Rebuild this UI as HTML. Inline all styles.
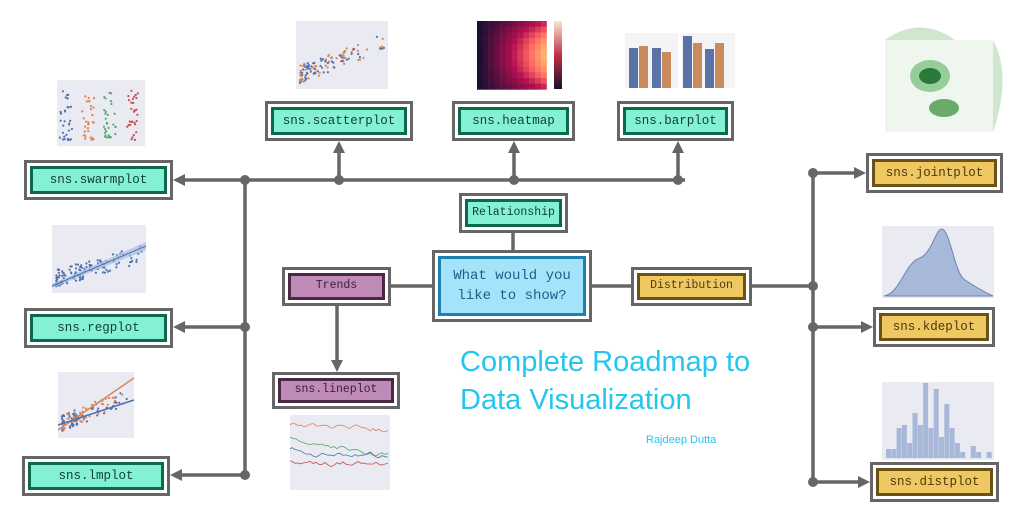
<!DOCTYPE html>
<html><head><meta charset="utf-8"><style>
body{margin:0;width:1023px;height:525px;background:#fff;position:relative;overflow:hidden;font-family:"Liberation Mono",monospace}
.b{position:absolute;box-sizing:border-box;border:3px solid #666;background:#fff;padding:3px}
.b div{box-sizing:border-box;width:100%;height:100%;border:3px solid;display:flex;align-items:center;justify-content:center;font-size:12.5px;text-align:center;line-height:1.45}
.g div{background:#84f0d4;border-color:#0b6a4e;color:#0f3f33}
.p div{background:#c08ab8;border-color:#4a2844;color:#3a2233}
.y div{background:#f0c862;border-color:#6b5218;color:#4a3a10}
.c div{background:#a3e4fb;border-color:#1f80b0;color:#1d5f86;font-size:14px}
svg{position:absolute;left:0;top:0}
.t{position:absolute;color:#22c6ee;font-family:"Liberation Sans",sans-serif}
</style></head><body>
<svg width="1023" height="525" id="s">
<g stroke="#666" stroke-width="3.5" fill="none">
<path d="M180 180H685 M245 180V475 M180 327H245 M180 475H245 M339 180V150 M514 180V150 M678 180V150 M513 233V250 M391 286H432 M592 286H631 M752 286H813 M813 173V482 M813 173H858 M813 327H865 M813 482H862 M337 306V362"/>
</g>
<g fill="#666">
<circle cx="245" cy="180" r="5"/><circle cx="339" cy="180" r="5"/><circle cx="514" cy="180" r="5"/><circle cx="678" cy="180" r="5"/>
<circle cx="245" cy="327" r="5"/><circle cx="245" cy="475" r="5"/>
<circle cx="813" cy="173" r="5"/><circle cx="813" cy="286" r="5"/><circle cx="813" cy="327" r="5"/><circle cx="813" cy="482" r="5"/>
<path d="M173 180l12-6v12z M173 327l12-6v12z M170 475l12-6v12z"/>
<path d="M866 173l-12-6v12z M873 327l-12-6v12z M870 482l-12-6v12z"/>
<path d="M339 141l-6 12h12z M514 141l-6 12h12z M678 141l-6 12h12z M337 372l-6-12h12z"/>
</g>
<g id="th"></g>
</svg>
<div class="b g" style="left:24px;top:160px;width:149px;height:40px"><div>sns.swarmplot</div></div>
<div class="b g" style="left:24px;top:308px;width:149px;height:40px"><div>sns.regplot</div></div>
<div class="b g" style="left:22px;top:456px;width:148px;height:40px"><div>sns.lmplot</div></div>
<div class="b g" style="left:265px;top:101px;width:148px;height:40px"><div>sns.scatterplot</div></div>
<div class="b g" style="left:452px;top:101px;width:123px;height:40px"><div>sns.heatmap</div></div>
<div class="b g" style="left:617px;top:101px;width:117px;height:40px"><div>sns.barplot</div></div>
<div class="b g" style="left:459px;top:193px;width:109px;height:40px"><div style="font-size:11.5px">Relationship</div></div>
<div class="b c" style="left:432px;top:250px;width:160px;height:72px"><div>What would you<br>like to show?</div></div>
<div class="b p" style="left:282px;top:267px;width:109px;height:39px"><div style="font-size:11.5px">Trends</div></div>
<div class="b y" style="left:631px;top:267px;width:121px;height:39px"><div style="font-size:11.5px">Distribution</div></div>
<div class="b p" style="left:272px;top:372px;width:128px;height:37px"><div style="font-size:11.5px">sns.lineplot</div></div>
<div class="b y" style="left:866px;top:153px;width:137px;height:40px"><div>sns.jointplot</div></div>
<div class="b y" style="left:873px;top:307px;width:122px;height:40px"><div>sns.kdeplot</div></div>
<div class="b y" style="left:870px;top:462px;width:129px;height:40px"><div>sns.distplot</div></div>
<div class="t" style="left:460px;top:343px;font-size:29px;line-height:38px">Complete Roadmap to<br>Data Visualization</div>
<div class="t" style="left:646px;top:434px;font-size:11px">Rajdeep Dutta</div>
<script>
var th=document.getElementById('th'),h='';
var r=1;function rnd(){r=(r*16807)%2147483647;return r/2147483647;}
function bg(x,y,w,hh){h+='<rect x="'+x+'" y="'+y+'" width="'+w+'" height="'+hh+'" fill="#eaeaf2"/>';}
function dots(x,y,w,hh,n,c,slope){for(var i=0;i<n;i++){var a=Math.pow(rnd(),1.8);var px=x+4+a*(w-8);var py=y+hh-6-(a*slope*0.7+rnd()*0.3)*(hh-10);py=Math.max(y+3,Math.min(y+hh-3,py));h+='<circle cx="'+px.toFixed(1)+'" cy="'+py.toFixed(1)+'" r="1.1" fill="'+(typeof c=="string"?c:c[i%2])+'"/>';}}
bg(57,80,88,66);
var cols=['#4c72b0','#dd8452','#55a868','#c44e52'];
for(var k=0;k<4;k++){for(var i=0;i<30;i++){var cx=66+k*22+(rnd()-0.5)*12;var cy=140-Math.pow(rnd(),1.5)*50;h+='<circle cx="'+cx.toFixed(1)+'" cy="'+cy.toFixed(1)+'" r="1.1" fill="'+cols[k]+'"/>';}}
bg(296,21,92,68);dots(296,21,92,68,120,['#dd8452','#4c72b0'],0.8);
bg(52,225,94,68);dots(52,225,94,68,120,'#4c72b0',0.6);
h+='<path d="M52 288L146 250L146 242L52 284z" fill="#a8bce0" opacity=".7"/><path d="M52 286L146 246" stroke="#4c72b0"/>';
bg(58,372,76,66);dots(58,372,76,66,110,['#dd8452','#4c72b0'],0.7);
h+='<path d="M58 430L134 378" stroke="#dd8452" stroke-width="1.5"/><path d="M58 425L134 400" stroke="#4c72b0" stroke-width="1.5"/>';
for(var i=0;i<12;i++)for(var j=0;j<12;j++){var v=(j/11)*(0.45+0.55*Math.sin(Math.PI*(i+1)/13));var R=Math.round(30+225*Math.min(1,v*1.3)),G=Math.round(15+200*Math.max(0,v-0.5)*1.6),B=Math.round(50+60*v);h+='<rect x="'+(477+j*5.8)+'" y="'+(21+i*5.7)+'" width="6" height="6" fill="rgb('+R+','+G+','+B+')"/>';}
h+='<defs><linearGradient id="cb" x1="0" y1="1" x2="0" y2="0"><stop offset="0" stop-color="#1a0f2e"/><stop offset=".5" stop-color="#c03048"/><stop offset="1" stop-color="#fbe6d0"/></linearGradient></defs><rect x="554" y="21" width="8" height="68" fill="url(#cb)"/>';
h+='<rect x="625" y="33" width="53" height="55" fill="#f4f4f4"/><rect x="682" y="33" width="53" height="55" fill="#f4f4f4"/>';
[[629,48,'#5a72a8'],[639,46,'#c98a5e'],[652,48,'#5a72a8'],[662,52,'#c98a5e'],[683,36,'#5a72a8'],[693,43,'#c98a5e'],[705,49,'#5a72a8'],[715,43,'#c98a5e']].forEach(function(b){h+='<rect x="'+b[0]+'" y="'+b[1]+'" width="9" height="'+(88-b[1])+'" fill="'+b[2]+'"/>';});
h+='<path d="M885 40Q920 15 955 40Z" fill="#cfe6cf"/><path d="M993 40Q1012 75 993 132Z" fill="#cfe6cf"/><rect x="885" y="40" width="108" height="92" fill="#eef6ee"/><ellipse cx="930" cy="76" rx="20" ry="16" fill="#98cc98"/><ellipse cx="930" cy="76" rx="11" ry="8" fill="#2a7a3a"/><ellipse cx="944" cy="108" rx="15" ry="9" fill="#6aaa6a"/>';
bg(882,226,112,72);h+='<path d="M884 296C900 294 905 262 920 258C932 253 936 228 942 229C950 230 955 275 965 280C980 290 985 292 993 296Z" fill="#a8b8d8" stroke="#6a85b8"/>';
bg(882,382,112,78);
var hs=[3,3,10,11,5,15,11,25,10,23,7,18,10,5,2,0,4,2,0,2];for(var i=0;i<20;i++)h+='<rect x="'+(886+i*5.3)+'" y="'+(458-hs[i]*3)+'" width="5" height="'+(hs[i]*3)+'" fill="#a8b8d8"/>';
bg(290,415,100,75);
['#dd8452','#55a868','#4c72b0','#c44e52'].forEach(function(c,k){var y=425+k*12,p='M290 '+y;for(var x=292;x<=390;x+=3){y+= (rnd()-0.5)*5+(k==2?0.25:0);p+='L'+x+' '+y.toFixed(1);}h+='<path d="'+p+'" stroke="'+c+'" fill="none" stroke-width=".8"/>';});
th.innerHTML=h;
</script>
</body></html>
